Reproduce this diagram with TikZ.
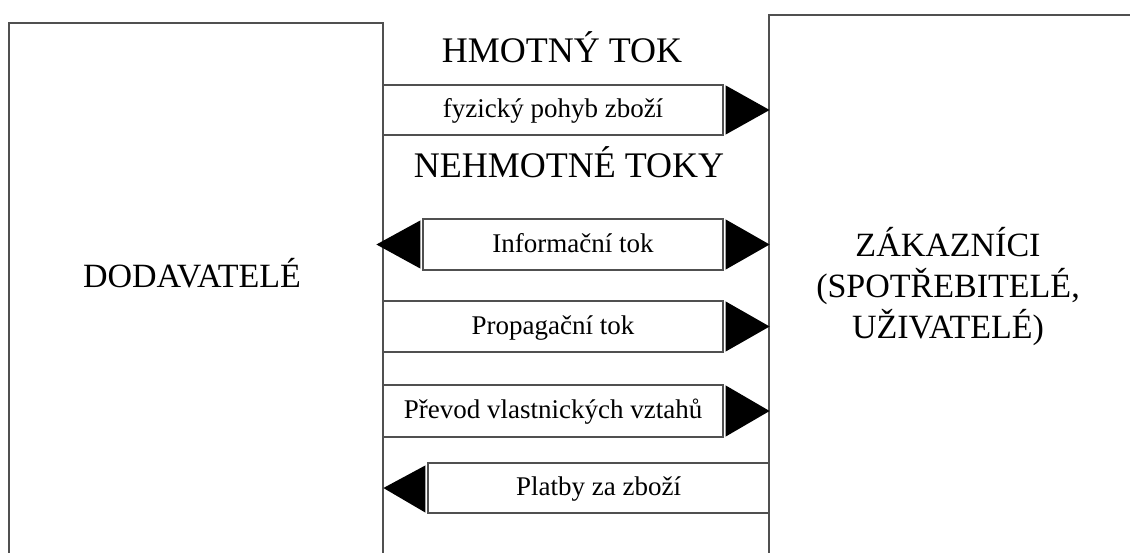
\documentclass[tikz,border=0pt]{standalone}
\usepackage{fontspec}
\setmainfont{Liberation Serif}
\usetikzlibrary{calc,positioning}
\definecolor{FlowLine}{RGB}{80,80,80}
\tikzset{
  sideline/.style ={draw=FlowLine, line width=1.3pt},
  flowbar/.style  ={draw=FlowLine, line width=1.2pt, fill=white, inner sep=0pt,
                    text height=20pt, text depth=5pt,
                    font=\fontsize{27}{32}\selectfont},
  flowhead/.style ={fill=black},
  bigtitle/.style ={font=\fontsize{36}{42}\selectfont, anchor=base},
  sidetitle/.style={font=\fontsize{34}{41}\selectfont, align=center},
}

\begin{document}
\begin{tikzpicture}[
  x=1pt,y=-1pt,
  line cap=butt,
  line join=miter
]
\useasboundingbox (0,0) rectangle (1131,553);

% --- Side boxes ----------------------------------------------------------
\draw[sideline] (9,553) -- (9,23) -- (383,23) -- (383,553);
\draw[sideline] (769,553) -- (769,15) -- (1130,15);

\node[sidetitle, anchor=base] (dod) at (192,287) {DODAVATELÉ};
\node[sidetitle] (zak) at (948,287) {ZÁKAZNÍCI\\(SPOTŘEBITELÉ,\\UŽIVATELÉ)};

% --- Headings ------------------------------------------------------------
\node[bigtitle] (hmot) at (562,63) {HMOTNÝ TOK};
\node[bigtitle] (nehmot) at (569,178) {NEHMOTNÉ TOKY};

% --- Flow bars -----------------------------------------------------------
\node[flowbar, minimum width=340pt, minimum height=50pt] (fyz)    at (553,110)   {fyzický pohyb zboží};
\node[flowbar, minimum width=300pt, minimum height=51pt] (info)   at (573,244.5) {Informační tok};
\node[flowbar, minimum width=340pt, minimum height=51pt] (prop)   at (553,326.5) {Propagační tok};
\node[flowbar, minimum width=340pt, minimum height=52pt] (prevod) at (553,411)   {Převod vlastnických vztahů};
\node[flowbar, minimum width=341pt, minimum height=50pt] (platby) at (598.5,488) {Platby za zboží};

% --- Heads pointing right (to the customers) ----------------------------
\foreach \bar in {fyz,info,prop,prevod}{
  \fill[flowhead] ($(\bar.north east)+(2,1)$) -- ($(\bar.east)+(46,0)$)
    -- ($(\bar.south east)+(2,-1)$) -- cycle;
}

% --- Heads pointing left (to the suppliers) -----------------------------
\fill[flowhead] ($(info.north west)+(-2,2)$) -- ($(info.west)+(-46,0)$)
  -- ($(info.south west)+(-2,-2)$) -- cycle;
\fill[flowhead] ($(platby.north west)+(-2,3)$) -- ($(platby.west)+(-44,0)$)
  -- ($(platby.south west)+(-2,-1)$) -- cycle;

\end{tikzpicture}
\end{document}
